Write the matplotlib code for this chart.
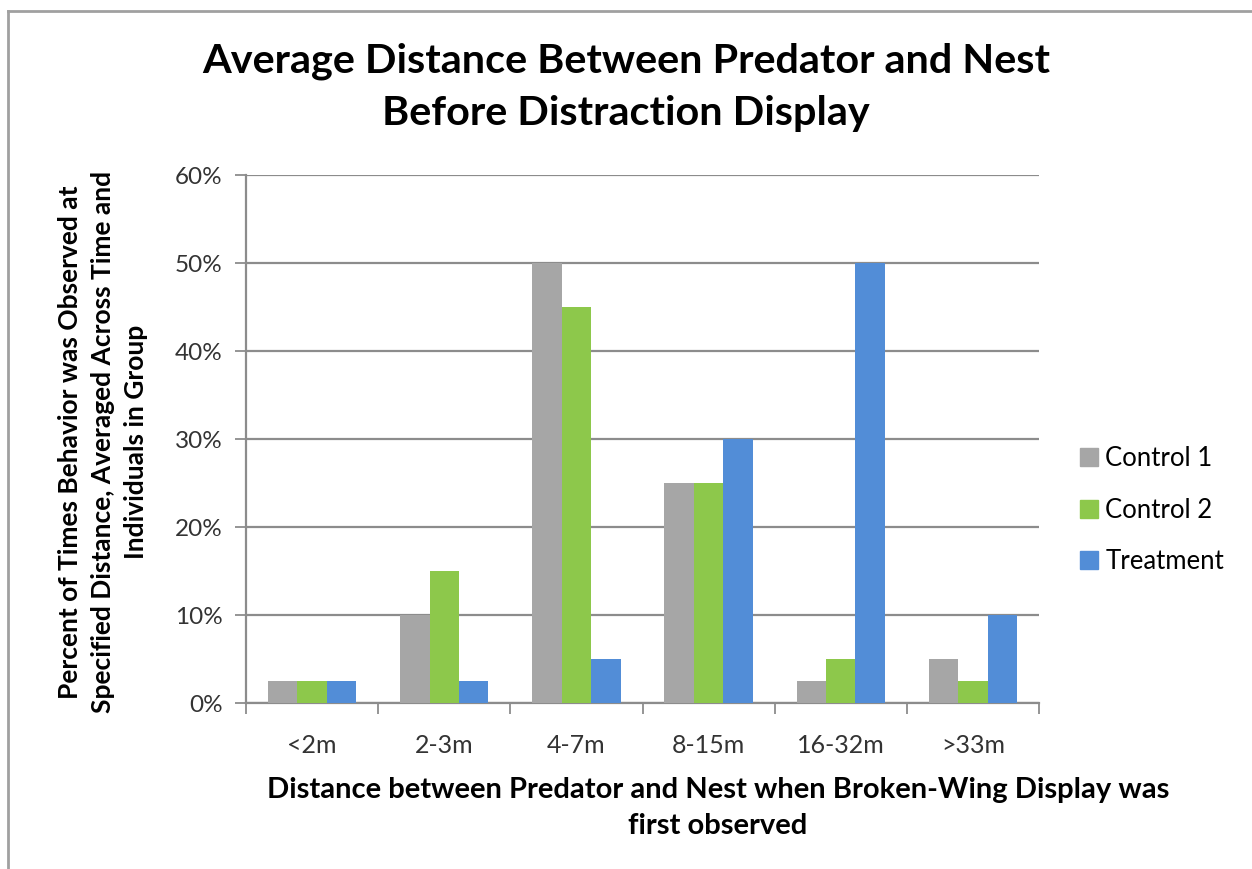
import matplotlib.pyplot as plt
import numpy as np
from matplotlib.lines import Line2D
from matplotlib.ticker import PercentFormatter

categories = ["<2m", "2-3m", "4-7m", "8-15m", "16-32m", ">33m"]
control1 = [2.5, 10, 50, 25, 2.5, 5]
control2 = [2.5, 15, 45, 25, 5, 2.5]
treatment = [2.5, 2.5, 5, 30, 50, 10]
series_names = ["Control 1", "Control 2", "Treatment"]
colors = ["#A6A6A6", "#8DC84B", "#528DD7"]

plt.rcParams['font.family'] = ['Lato', 'DejaVu Sans']

fig = plt.figure(figsize=(12.52, 8.69), dpi=100)
fig.patch.set_facecolor("white")
ax = fig.add_axes([246 / 1252, 1 - 703 / 869, 793 / 1252, 528 / 869])

x = np.arange(len(categories))
w = 0.223
for i, (vals, name, col) in enumerate(zip([control1, control2, treatment], series_names, colors)):
    ax.bar(x + (i - 1) * w, vals, width=w, color=col, label=name, zorder=3)

ax.set_xlim(-0.5, len(categories) - 0.5)
ax.set_ylim(0, 60)
ax.set_yticks(np.arange(0, 61, 10))
ax.yaxis.set_major_formatter(PercentFormatter(decimals=0))
ax.yaxis.grid(True, color="#8C8C8C", linewidth=1.6, zorder=0)

# category boundaries carry the x tick marks, labels sit at centres
ax.set_xticks(np.arange(-0.5, len(categories), 1))
ax.set_xticklabels([])
ax.set_xticks(x, minor=True)
ax.set_xticklabels(categories, minor=True)
ax.tick_params(axis="x", which="major", length=8, width=1.3, color="#8C8C8C", direction="out")
ax.tick_params(axis="x", which="minor", length=0, pad=22, labelsize=18, labelcolor="#333333")
ax.tick_params(axis="y", length=8, width=1.3, color="#8C8C8C", pad=9, labelsize=17.5, labelcolor="#333333")

for s in ["top", "right"]:
    ax.spines[s].set_visible(False)
for s in ["left", "bottom"]:
    ax.spines[s].set_color("#8C8C8C")
    ax.spines[s].set_linewidth(1.6)

fig.text(0.5, 1 - 87 / 869, "Average Distance Between Predator and Nest\nBefore Distraction Display",
         ha="center", va="center", fontsize=29.8, fontweight="bold", linespacing=1.5)
fig.text(718 / 1252, 1 - 808 / 869,
         "Distance between Predator and Nest when Broken-Wing Display was\nfirst observed",
         ha="center", va="center", fontsize=21, fontweight="bold", linespacing=1.45)
fig.text(103 / 1252, 1 - 442 / 869,
         "Percent of Times Behavior was Observed at\nSpecified Distance, Averaged Across Time and\nIndividuals in Group",
         ha="center", va="center", rotation=90, fontsize=19, fontweight="bold", linespacing=1.45)

handles = [Line2D([], [], marker="s", linestyle="none", markersize=13, color=c) for c in colors]
fig.legend(handles, series_names, loc="center left", bbox_to_anchor=(1050 / 1252, 1 - 510 / 869),
           frameon=False, fontsize=18.5, handletextpad=0.05, labelspacing=1.05, handlelength=1.2)

# chart border
fig.add_artist(Line2D([8 / 1252, 8 / 1252], [0, 1 - 11 / 869], color="#A0A0A0", linewidth=2))
fig.add_artist(Line2D([8 / 1252, 1], [1 - 11 / 869, 1 - 11 / 869], color="#A0A0A0", linewidth=2))

fig.savefig("out.png", dpi=100)
